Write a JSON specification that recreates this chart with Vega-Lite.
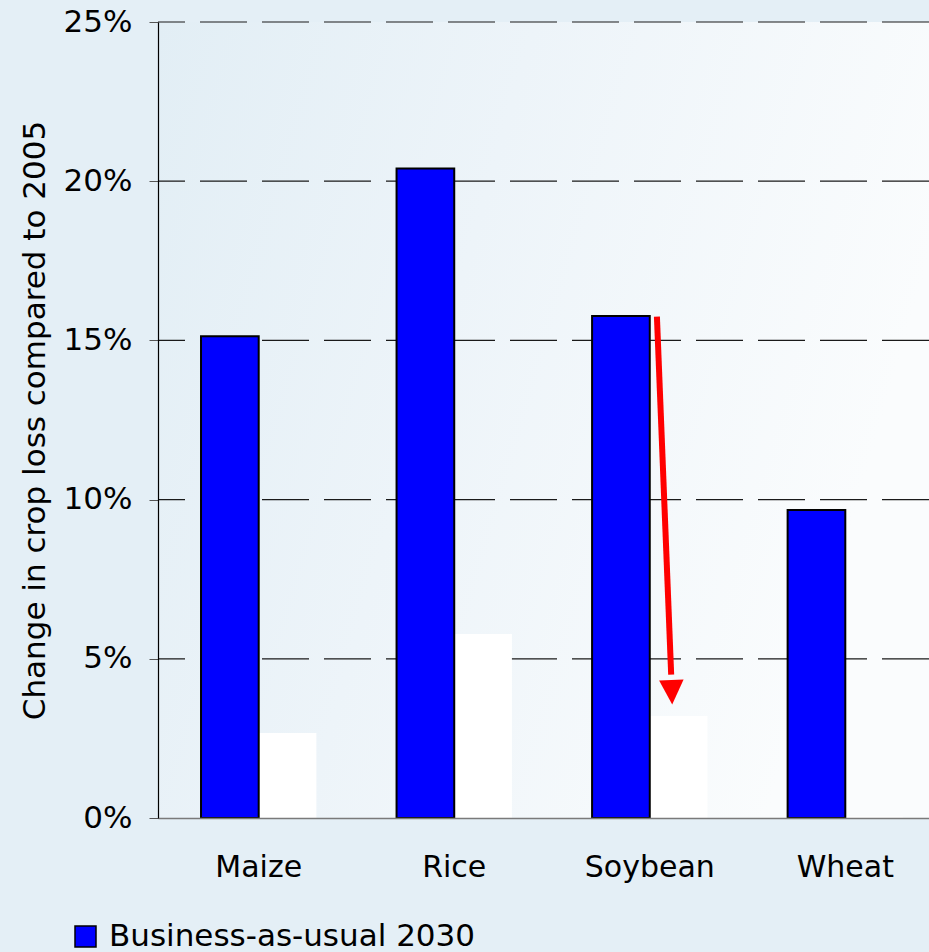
{
  "$schema": "https://vega.github.io/schema/vega-lite/v6.json",
  "autosize": {"type": "none"},
  "padding": {"left": 158, "top": 22, "right": 0, "bottom": 134},
  "width": 771,
  "height": 796,
  "background": "#e4eff6",
  "config": {
    "font": "DejaVu Sans",
    "view": {"stroke": null}
  },
  "datasets": {
    "losses": [
      {"crop": "Maize", "scenario": "Business-as-usual 2030", "change": 0.1513},
      {"crop": "Maize", "scenario": "2030 with mitigation", "change": 0.0267},
      {"crop": "Rice", "scenario": "Business-as-usual 2030", "change": 0.204},
      {"crop": "Rice", "scenario": "2030 with mitigation", "change": 0.0578},
      {"crop": "Soybean", "scenario": "Business-as-usual 2030", "change": 0.1577},
      {"crop": "Soybean", "scenario": "2030 with mitigation", "change": 0.032},
      {"crop": "Wheat", "scenario": "Business-as-usual 2030", "change": 0.0967},
      {"crop": "Wheat", "scenario": "2030 with mitigation", "change": 0.0005}
    ],
    "gridlines": [
      {"change": 0.05}, {"change": 0.1}, {"change": 0.15}, {"change": 0.2}, {"change": 0.25}
    ],
    "arrow": [
      {"pos_from": 2.552, "pos_to": 2.625, "change": 0.1575, "change_to": 0.045}
    ],
    "arrowhead": [
      {"pos": 2.628, "change": 0.0395}
    ]
  },
  "layer": [
    {
      "data": {"values": [{}]},
      "mark": {
        "type": "rect",
        "fill": {
          "gradient": "linear",
          "x1": 0, "y1": 0, "x2": 1, "y2": 0.3,
          "stops": [
            {"offset": 0, "color": "#e2eef5"},
            {"offset": 0.45, "color": "#edf4f9"},
            {"offset": 1, "color": "#fafcfd"}
          ]
        }
      },
      "encoding": {}
    },
    {
      "data": {"name": "gridlines"},
      "mark": {"type": "rule", "color": "#1a1a1a", "strokeWidth": 1.2, "strokeDash": [47, 15]},
      "encoding": {
        "y": {
          "field": "change",
          "type": "quantitative",
          "scale": {"domain": [0, 0.25], "nice": false, "zero": true},
          "axis": {
            "title": "Change in crop loss compared to 2005",
            "titleFontSize": 31,
            "titleFontWeight": "normal",
            "titleColor": "#000000",
            "titlePadding": 12,
            "values": [0, 0.05, 0.1, 0.15, 0.2, 0.25],
            "format": ".0%",
            "labelFontSize": 31,
            "labelColor": "#000000",
            "labelPadding": 17,
            "tickSize": 9,
            "tickColor": "#555555",
            "domain": true,
            "domainColor": "#000000",
            "domainWidth": 1.2,
            "grid": false,
            "zindex": 1
          }
        }
      }
    },
    {
      "data": {"name": "losses"},
      "encoding": {
        "x": {
          "field": "crop",
          "type": "nominal",
          "sort": ["Maize", "Rice", "Soybean", "Wheat"],
          "scale": {"range": [0, 788], "paddingInner": 0.41, "paddingOuter": 0.22},
          "axis": {
            "title": null,
            "labelAngle": 0,
            "labelFontSize": 30,
            "labelColor": "#000000",
            "labelPadding": 34,
            "ticks": false,
            "domainColor": "#7a7a7a",
            "domainWidth": 1.5,
            "grid": false,
            "zindex": 1
          }
        },
        "xOffset": {
          "field": "scenario",
          "type": "nominal",
          "scale": {"domain": ["Business-as-usual 2030", "2030 with mitigation"], "paddingInner": 0, "paddingOuter": 0}
        },
        "y": {"field": "change", "type": "quantitative", "scale": {"domain": [0, 0.25], "nice": false}}
      },
      "layer": [
        {
          "transform": [{"filter": "datum.scenario === '2030 with mitigation'"}],
          "mark": {"type": "bar", "fill": "#ffffff"}
        },
        {
          "transform": [{"filter": "datum.scenario === 'Business-as-usual 2030'"}],
          "mark": {"type": "bar", "stroke": "#000000", "strokeWidth": 2},
          "encoding": {
            "color": {
              "field": "scenario",
              "type": "nominal",
              "scale": {"domain": ["Business-as-usual 2030"], "range": ["#0000ff"]},
              "legend": {
                "orient": "none",
                "legendX": -88,
                "legendY": 899,
                "title": null,
                "symbolType": "square",
                "symbolSize": 441,
                "symbolStrokeColor": "#000000",
                "symbolStrokeWidth": 1.5,
                "symbolFillColor": "#0000ff",
                "labelFontSize": 31,
                "labelLimit": 0,
                "labelColor": "#000000",
                "labelOffset": 8
              }
            }
          }
        }
      ]
    },
    {
      "data": {"name": "arrow"},
      "mark": {"type": "rule", "color": "#ff0000", "strokeWidth": 6},
      "encoding": {
        "x": {"field": "pos_from", "type": "quantitative", "scale": {"domain": [0, 4], "range": [0, 782]}, "axis": null},
        "x2": {"field": "pos_to"},
        "y": {"field": "change", "type": "quantitative", "scale": {"domain": [0, 0.25], "nice": false}},
        "y2": {"field": "change_to"}
      }
    },
    {
      "data": {"name": "arrowhead"},
      "mark": {
        "type": "point",
        "shape": "M-1,-1L1,-1L0,1Z",
        "filled": true,
        "color": "#ff0000",
        "opacity": 1,
        "size": 600,
        "angle": -2
      },
      "encoding": {
        "x": {"field": "pos", "type": "quantitative", "scale": {"domain": [0, 4], "range": [0, 782]}, "axis": null},
        "y": {"field": "change", "type": "quantitative", "scale": {"domain": [0, 0.25], "nice": false}}
      }
    }
  ],
  "resolve": {"scale": {"x": "independent"}}
}
